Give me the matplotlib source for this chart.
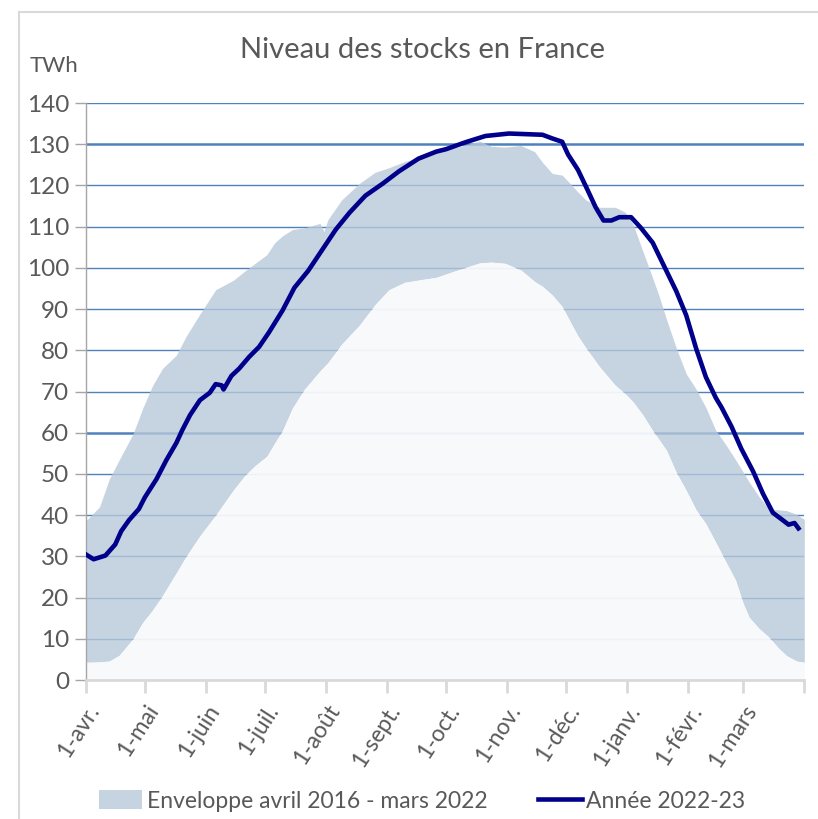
import matplotlib
matplotlib.use("Agg")
import matplotlib.pyplot as plt
from matplotlib.patches import Patch
from matplotlib.lines import Line2D

plt.rcParams["font.family"] = ["Lato", "DejaVu Sans"]

GREY_TXT = "#595959"
ENV_COL = "#b8c9d9"
MIN_COL = "#f8f9fb"
LINE_COL = "#00008b"
GRID_COL = "#4f81bd"

# axe des x : jours depuis le 1er avril
month_days = [0, 30, 61, 91, 122, 153, 183, 214, 244, 275, 306, 334, 365]
month_labels = ["1-avr.", "1-mai", "1-juin", "1-juil.", "1-août", "1-sept.",
                "1-oct.", "1-nov.", "1-déc.", "1-janv.", "1-févr.", "1-mars", ""]

# enveloppe 2016-2022 (TWh)
env_days = [0, 7, 12, 17, 24, 29, 34, 39, 46, 51, 58, 66, 75, 81, 86, 92, 96,
            100, 105, 111, 119, 121, 123, 130, 139, 147, 154, 162, 171, 178,
            189, 200, 206, 213, 221, 228, 232, 237, 242, 247, 250, 254, 261,
            269, 274, 278, 283, 288, 291, 295, 300, 305, 310, 315, 320, 325,
            330, 334, 337, 342, 347, 352, 356, 361, 365]
env_max = [38.6, 42.0, 48.8, 53.4, 59.7, 66.0, 71.5, 75.6, 78.8, 83.4, 88.8,
           94.7, 97.0, 99.3, 101.1, 103.2, 106.1, 107.8, 109.3, 109.7, 110.8,
           108.8, 111.7, 116.5, 120.5, 123.2, 124.3, 125.8, 127.0, 128.4,
           129.3, 130.8, 129.5, 129.3, 129.7, 128.2, 125.6, 122.9, 122.5,
           120.0, 118.4, 116.5, 114.7, 114.7, 113.5, 110.6, 104.0, 97.5, 93.5,
           87.5, 80.5, 74.3, 70.6, 66.1, 60.6, 57.2, 53.5, 50.4, 48.0, 44.5,
           41.5, 41.3, 41.1, 40.2, 39.0]
env_min = [4.3, 4.4, 4.6, 6.0, 10.0, 14.0, 17.0, 20.5, 26.0, 30.0, 35.0, 40.0,
           46.1, 49.7, 52.0, 54.3, 57.5, 60.6, 66.0, 70.5, 75.0, 76.0, 77.0,
           81.5, 86.1, 91.1, 94.7, 96.5, 97.2, 97.7, 99.5, 101.2, 101.4,
           101.1, 99.5, 96.7, 95.5, 93.4, 90.6, 86.1, 83.5, 80.6, 76.0, 71.5,
           69.5, 67.5, 64.3, 60.5, 58.5, 55.7, 50.3, 46.0, 41.3, 37.9, 33.4,
           28.8, 24.3, 18.5, 15.2, 12.5, 10.4, 7.7, 5.9, 4.6, 4.3]

# année 2022-23 (TWh)
year_days = [0, 4, 10, 15, 18, 22, 27, 30, 36, 41, 46, 49, 53, 58, 63, 66, 69,
             70, 74, 78, 83, 88, 93, 100, 106, 113, 120, 127, 134, 142, 151,
             159, 169, 178, 183, 193, 203, 215, 232, 237, 242, 245, 250, 255,
             259, 263, 267, 271, 277, 282, 288, 294, 300, 305, 310, 315, 320,
             323, 328, 333, 339, 344, 349, 354, 357, 360, 362]
year_vals = [30.5, 29.3, 30.2, 32.9, 36.1, 38.8, 41.5, 44.3, 48.8, 53.4, 57.5,
             60.6, 64.3, 67.9, 69.7, 71.8, 71.5, 70.5, 73.8, 75.6, 78.4, 80.8,
             84.3, 89.7, 95.2, 99.3, 104.3, 109.3, 113.4, 117.5, 120.5, 123.4,
             126.5, 128.2, 128.8, 130.5, 132.0, 132.6, 132.3, 131.4, 130.6,
             127.5, 123.8, 118.8, 114.7, 111.5, 111.5, 112.3, 112.3, 109.7,
             106.1, 100.2, 94.3, 88.5, 80.5, 73.5, 68.5, 66.1, 61.5, 56.1,
             50.6, 45.2, 40.6, 38.8, 37.7, 38.1, 36.8]

fig = plt.figure(figsize=(8.18, 8.19), dpi=100)
ax = fig.add_axes([0.1048, 0.1697, 0.8785, 0.7045])

# grille horizontale (sous les aires, comme dans Excel)
for v in range(10, 141, 10):
    lw = 1.8 if v in (60, 130) else 1.0
    ax.axhline(v, color=GRID_COL, lw=lw, zorder=1)

ax.fill_between(env_days, env_min, env_max, color=ENV_COL, alpha=0.8,
                lw=0, zorder=2)
ax.fill_between(env_days, 0, env_min, color=MIN_COL, alpha=0.95, lw=0,
                zorder=2)
ax.plot(year_days, year_vals, color=LINE_COL, lw=3.3, zorder=4,
        solid_joinstyle="round")

ax.set_xlim(0, 365)
ax.set_ylim(0, 140)
ax.set_yticks(range(0, 141, 10))
ax.set_xticks(month_days)
ax.set_xticklabels(month_labels, rotation=57, ha="right",
                   rotation_mode="anchor")
ax.tick_params(axis="y", direction="out", length=8, width=1,
               color="#a6a6a6", labelsize=17.5, labelcolor=GREY_TXT, pad=4)
ax.tick_params(axis="x", direction="out", length=9, width=2,
               color="#d9d9d9", labelsize=16.5, labelcolor=GREY_TXT, pad=6)

for s in ("top", "right"):
    ax.spines[s].set_visible(False)
ax.spines["left"].set_color("#a6a6a6")
ax.spines["left"].set_linewidth(1)
ax.spines["bottom"].set_color("#d9d9d9")
ax.spines["bottom"].set_linewidth(2)
ax.spines["bottom"].set_zorder(5)

fig.text(0.517, 0.939, "Niveau des stocks en France", ha="center",
         va="center", fontsize=21, color=GREY_TXT)
fig.text(0.066, 0.920, "TWh", ha="center", va="center", fontsize=16,
         color=GREY_TXT)

handles = [Patch(facecolor="#c6d4e1", edgecolor="none"),
           Line2D([0], [0], color=LINE_COL, lw=3.3)]
fig.legend(handles, ["Enveloppe avril 2016 - mars 2022", "Année 2022-23"],
           loc="center", bbox_to_anchor=(0.516, 0.022), ncol=2, frameon=False,
           fontsize=16.5, labelcolor=GREY_TXT, handlelength=1.9,
           handleheight=0.9, handletextpad=0.2, columnspacing=2.2)

# cadre du graphique
fig.add_artist(Line2D([19 / 818, 19 / 818], [0, 1 - 12 / 819],
                      transform=fig.transFigure, color="#d9d9d9", lw=1.5))
fig.add_artist(Line2D([19 / 818, 1], [1 - 12 / 819, 1 - 12 / 819],
                      transform=fig.transFigure, color="#d9d9d9", lw=1.5))

fig.savefig("out.png", dpi=100)
